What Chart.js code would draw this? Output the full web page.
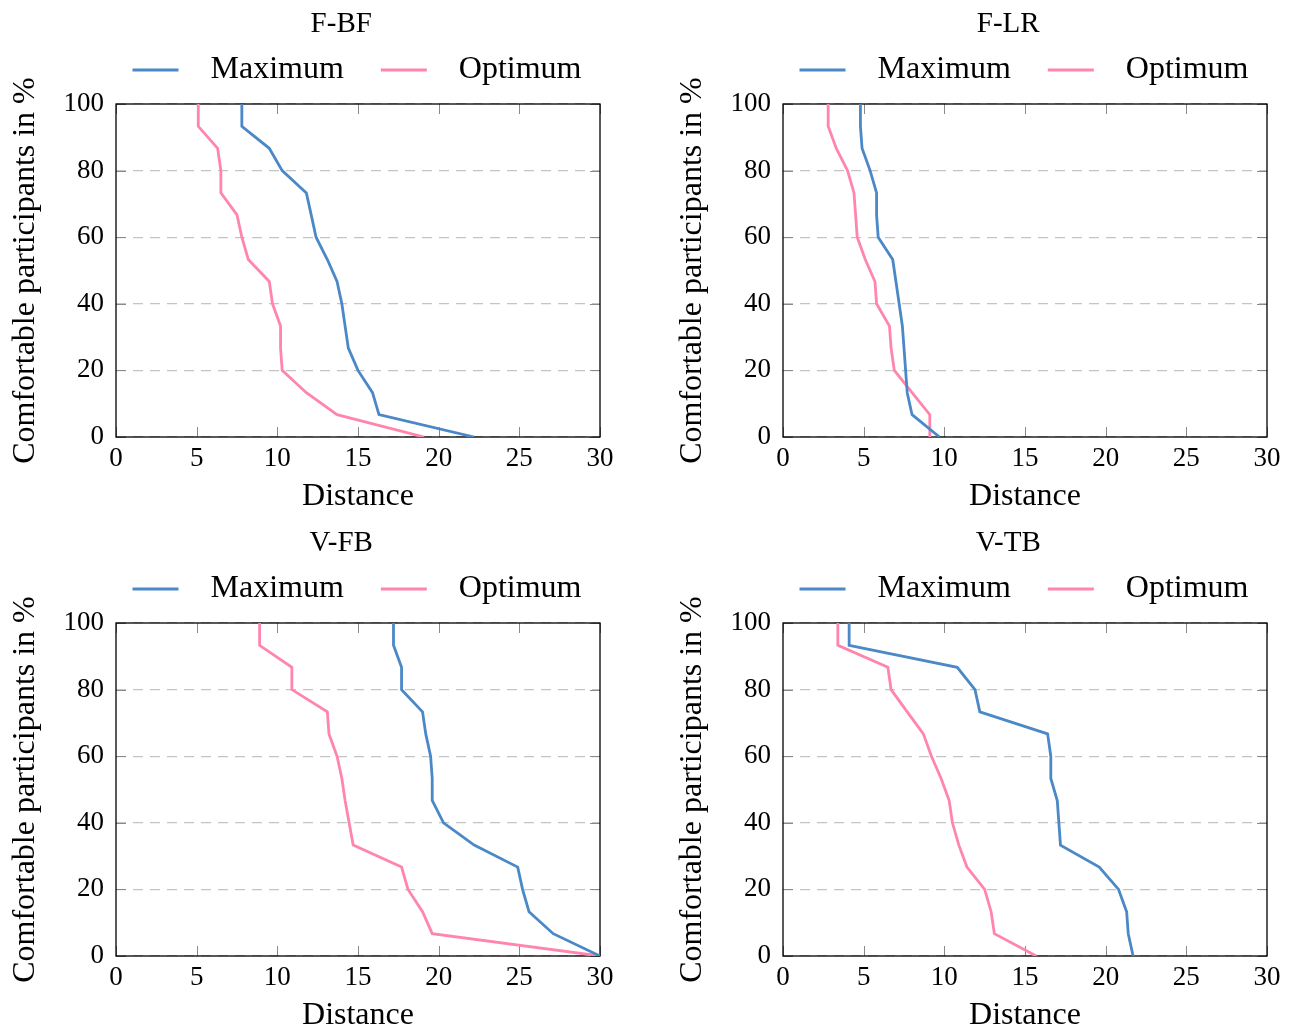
<!DOCTYPE html>
<html>
<head>
<meta charset="utf-8">
<script src="https://cdn.jsdelivr.net/npm/chart.js@4.4.1/dist/chart.umd.min.js"></script>
<style>
  body { margin: 0; background: #fff; }
  .panel { position: absolute; width: 631px; height: 511px; }
</style>
</head>
<body>
<div class="panel" style="left:0;top:0"><canvas id="fbf" width="631" height="511"></canvas></div>
<div class="panel" style="left:667px;top:0"><canvas id="flr" width="631" height="511"></canvas></div>
<div class="panel" style="left:0;top:519px"><canvas id="vfb" width="631" height="511"></canvas></div>
<div class="panel" style="left:667px;top:519px"><canvas id="vtb" width="631" height="511"></canvas></div>
<script>
'use strict';

// share of comfortable participants (15 people, steps of 1/15)
const comfortLevels = [100, 93.3, 86.7, 80, 73.3, 66.7, 60, 53.3, 46.7, 40, 33.3, 26.7, 20, 13.3, 6.7, 0];

const fbfMax = [7.8, 7.8, 9.5, 10.3, 11.8, 12.1, 12.4, 13.1, 13.7, 14.0, 14.2, 14.4, 15.0, 15.9, 16.3, 22.2];
const fbfOpt = [5.1, 5.1, 6.3, 6.5, 6.5, 7.5, 7.8, 8.2, 9.5, 9.7, 10.2, 10.2, 10.3, 11.8, 13.7, 19.1];

const flrMax = [4.8, 4.8, 4.9, 5.4, 5.8, 5.8, 5.9, 6.8, 7.0, 7.2, 7.4, 7.5, 7.6, 7.7, 8.0, 9.7];
const flrOpt = [2.8, 2.8, 3.3, 4.0, 4.4, 4.5, 4.6, 5.1, 5.7, 5.8, 6.6, 6.7, 6.9, 8.0, 9.1, 9.1];

const vfbMax = [17.2, 17.2, 17.7, 17.7, 19.0, 19.2, 19.5, 19.6, 19.6, 20.3, 22.2, 24.9, 25.2, 25.6, 27.1, 30];
const vfbOpt = [8.9, 8.9, 10.9, 10.9, 13.1, 13.2, 13.7, 14.0, 14.2, 14.45, 14.7, 17.7, 18.1, 19.0, 19.6, 30];

const vtbMax = [4.1, 4.1, 10.8, 11.9, 12.2, 16.4, 16.6, 16.6, 17.0, 17.1, 17.2, 19.6, 20.8, 21.3, 21.4, 21.7];
const vtbOpt = [3.4, 3.4, 6.5, 6.7, 7.7, 8.7, 9.2, 9.8, 10.3, 10.5, 10.9, 11.4, 12.5, 12.9, 13.1, 15.7];

const seriesNames = ['Maximum', 'Optimum'];
const xTitle = 'Distance';
const yTitle = 'Comfortable participants in %';

const blue = '#4a88c7';
const pink = '#ff85ac';
const serif = 'Liberation Serif';

// pgfplots style: full frame, inner ticks, rotated y label
const frame = {
  id: 'frame',
  beforeDatasetsDraw(chart) {
    const { ctx, chartArea: a, scales: { x, y } } = chart;
    ctx.save();
    ctx.strokeStyle = '#8a8a8a';
    ctx.lineWidth = 1;
    ctx.beginPath();
    x.ticks.forEach(t => {
      const px = Math.round(x.getPixelForValue(t.value)) + 0.5;
      ctx.moveTo(px, a.bottom); ctx.lineTo(px, a.bottom - 10);
      ctx.moveTo(px, a.top); ctx.lineTo(px, a.top + 10);
    });
    y.ticks.forEach(t => {
      const py = Math.round(y.getPixelForValue(t.value)) + 0.5;
      ctx.moveTo(a.left, py); ctx.lineTo(a.left + 10, py);
      ctx.moveTo(a.right, py); ctx.lineTo(a.right - 10, py);
    });
    ctx.stroke();
    ctx.strokeStyle = '#000';
    ctx.lineWidth = 1.3;
    ctx.strokeRect(a.left, a.top, a.right - a.left, a.bottom - a.top);
    ctx.restore();
  },
  afterDraw(chart) {
    const { ctx, chartArea: a } = chart;
    ctx.save();
    ctx.font = '32px "' + serif + '"';
    ctx.fillStyle = '#000';
    ctx.textAlign = 'center';
    ctx.textBaseline = 'middle';
    ctx.translate(26, (a.top + a.bottom) / 2);
    ctx.rotate(-Math.PI / 2);
    ctx.fillText(yTitle, 0, 0);
    ctx.restore();
  }
};

function makeChart(id, title, maxVals, optVals) {
  const ctx = document.getElementById(id).getContext('2d');
  const toPoints = vals => vals.map((v, i) => ({ x: v, y: comfortLevels[i] }));

  new Chart(ctx, {
    type: 'line',
    data: {
      datasets: [{
        label: '  ' + seriesNames[0] + '   ',
        data: toPoints(maxVals),
        borderColor: blue,
        backgroundColor: blue,
        borderWidth: 2.8,
        pointRadius: 0,
        tension: 0,
        fill: false
      }, {
        label: '  ' + seriesNames[1],
        data: toPoints(optVals),
        borderColor: pink,
        backgroundColor: pink,
        borderWidth: 2.8,
        pointRadius: 0,
        tension: 0,
        fill: false
      }]
    },
    options: {
      responsive: false,
      animation: false,
      devicePixelRatio: 1,
      layout: { padding: { left: 39, right: 31, top: 0, bottom: 0 } },
      scales: {
        x: {
          type: 'linear',
          min: 0,
          max: 30,
          ticks: { stepSize: 5, color: '#000', padding: 8, font: { family: serif, size: 27, lineHeight: 1 } },
          grid: { display: false, drawTicks: false },
          border: { display: false },
          title: { display: true, text: xTitle, color: '#000', font: { family: serif, size: 32, lineHeight: 1 }, padding: { top: 0, bottom: -2 } },
          afterFit(s) { s.height = 74; }
        },
        y: {
          type: 'linear',
          min: 0,
          max: 100,
          ticks: { stepSize: 20, color: '#000', padding: 12, font: { family: serif, size: 27, lineHeight: 1 } },
          grid: { color: '#c4c4c4', lineWidth: 1.2, drawTicks: false },
          border: { display: false, dash: [10, 7] },
          afterFit(s) { s.width = 77; }
        }
      },
      plugins: {
        title: {
          display: true,
          text: '      ' + title,
          color: '#000',
          font: { family: serif, size: 29, weight: 'normal', lineHeight: 1 },
          padding: { top: 9.5, bottom: 2.5 }
        },
        subtitle: {
          display: true,
          text: '',
          weight: 500,
          font: { size: 1, lineHeight: 1 },
          padding: { top: 0, bottom: 7 }
        },
        legend: {
          labels: {
            color: '#000',
            font: { family: serif, size: 32, lineHeight: 1 },
            boxWidth: 46,
            boxHeight: 3,
            padding: 13,
            generateLabels(chart) {
              const items = Chart.defaults.plugins.legend.labels.generateLabels(chart);
              items.forEach(it => { it.lineWidth = 0; it.fillStyle = it.strokeStyle; });
              // empty slot in front keeps the legend centred over the plot
              items.unshift({ text: '', fillStyle: 'rgba(0,0,0,0)', strokeStyle: 'rgba(0,0,0,0)', lineWidth: 0, hidden: false });
              return items;
            }
          }
        },
        tooltip: { enabled: false }
      }
    },
    plugins: [frame]
  });
}

makeChart('fbf', 'F-BF', fbfMax, fbfOpt);
makeChart('flr', 'F-LR', flrMax, flrOpt);
makeChart('vfb', 'V-FB', vfbMax, vfbOpt);
makeChart('vtb', 'V-TB', vtbMax, vtbOpt);
</script>
</body>
</html>
